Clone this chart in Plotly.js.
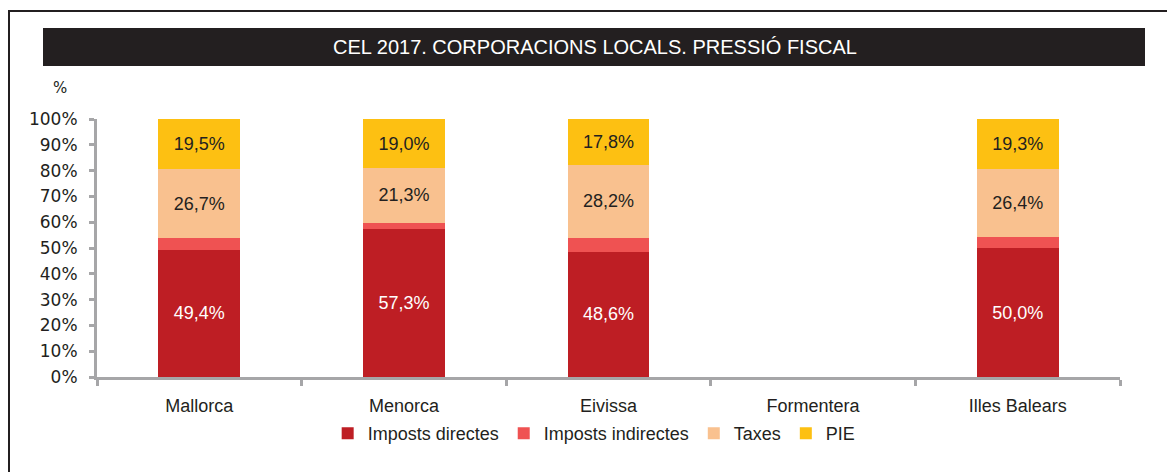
<!DOCTYPE html>
<html>
<head>
<meta charset="utf-8">
<script src="https://cdn.plot.ly/plotly-3.0.1.min.js"></script>
<style>
html,body{margin:0;padding:0;background:#fff;}
#wrap{position:relative;width:1167px;height:472px;overflow:hidden;}
#chart{width:1167px;height:472px;}
#frame{position:absolute;left:8px;top:10px;width:1200px;height:500px;border-left:2px solid #231f20;border-top:2px solid #231f20;pointer-events:none;}
</style>
</head>
<body>
<div id="wrap"><div id="chart"></div><div id="frame"></div></div>
<script>
const categories = ["Mallorca", "Menorca", "Eivissa", "Formentera", "Illes Balears"];
const impostsDirectes   = [49.4, 57.3, 48.6, null, 50.0];
const impostsIndirectes = [4.4, 2.4, 5.4, null, 4.3];
const taxes             = [26.7, 21.3, 28.2, null, 26.4];
const pie               = [19.5, 19.0, 17.8, null, 19.3];
const yTickVals = [0,10,20,30,40,50,60,70,80,90,100];
const yTickText = ["0%","10%","20%","30%","40%","50%","60%","70%","80%","90%","100%"];

const fmt = v => v == null ? "" : v.toFixed(1).replace(".", ",") + "%";
const narrow = '"Liberation Sans Narrow", "Arial Narrow", "Liberation Sans", Arial, sans-serif';

function mk(name, vals, color, showText, txtColor) {
  return {
    type: "bar", name: name, x: categories, y: vals,
    marker: {color: color, line: {width: 0}},
    text: showText ? vals.map(fmt) : vals.map(() => ""),
    textposition: "inside", insidetextanchor: "middle",
    textfont: {family: narrow, size: 18, color: txtColor},
    constraintext: "none",
    hoverinfo: "skip"
  };
}

const data = [
  mk("Imposts directes", impostsDirectes, "#BE1E24", true, "#ffffff"),
  mk("Imposts indirectes", impostsIndirectes, "#EF5252", false, "#231f20"),
  mk("Taxes", taxes, "#F9C18F", true, "#231f20"),
  mk("PIE", pie, "#FDC012", true, "#231f20")
];

const L = 97, R = 1120, T = 119, B = 377;
const px = p => (p - L) / (R - L);
const py = p => (B - p) / (B - T);

const layout = {
  width: 1167, height: 472,
  margin: {l: L, r: 1167 - R, t: T, b: 472 - B},
  paper_bgcolor: "#ffffff", plot_bgcolor: "#ffffff",
  barmode: "stack", bargap: 0.6,
  showlegend: true,
  legend: {orientation: "h", x: 0.486, xanchor: "center", y: py(452), yanchor: "bottom",
           font: {family: narrow, size: 18, color: "#231f20"}, itemwidth: 30, traceorder: "normal",
           tracegroupgap: 0},
  title: {text: "CEL 2017. CORPORACIONS LOCALS. PRESSIÓ FISCAL", x: px(595), xref: "paper", xanchor: "center",
          y: 1 - 47/472, yanchor: "middle", yref: "container",
          font: {family: narrow, size: 20, color: "#ffffff"}},
  xaxis: {type: "category", showline: true, linecolor: "#A6A6A8", linewidth: 3,
          ticks: "outside", tickson: "boundaries", ticklen: 6, tickwidth: 3, tickcolor: "#A6A6A8",
          ticklabelstandoff: 10,
          tickfont: {family: narrow, size: 18, color: "#231f20"}, showgrid: false, zeroline: false,
          fixedrange: true},
  yaxis: {range: [0, 100], tickvals: yTickVals, ticktext: yTickText, showline: true,
          linecolor: "#A6A6A8", linewidth: 3, ticks: "outside", ticklen: 5, tickwidth: 3,
          tickcolor: "#A6A6A8", ticklabelstandoff: 8,
          tickfont: {family: "DejaVu Sans, Verdana, sans-serif", size: 17, color: "#231f20"},
          showgrid: false, zeroline: false, fixedrange: true},
  shapes: [
    {type: "rect", xref: "paper", yref: "paper", x0: px(43), x1: px(1145), y0: py(66), y1: py(28),
     fillcolor: "#231F20", line: {width: 0}, layer: "below"}
  ],
  annotations: [
    {text: "%", xref: "paper", yref: "paper", x: px(60), y: py(88), xanchor: "center", yanchor: "middle",
     showarrow: false, font: {family: "DejaVu Sans, Verdana, sans-serif", size: 15, color: "#231f20"}}
  ]
};

Plotly.newPlot("chart", data, layout, {displayModeBar: false, staticPlot: true});
</script>
</body>
</html>
